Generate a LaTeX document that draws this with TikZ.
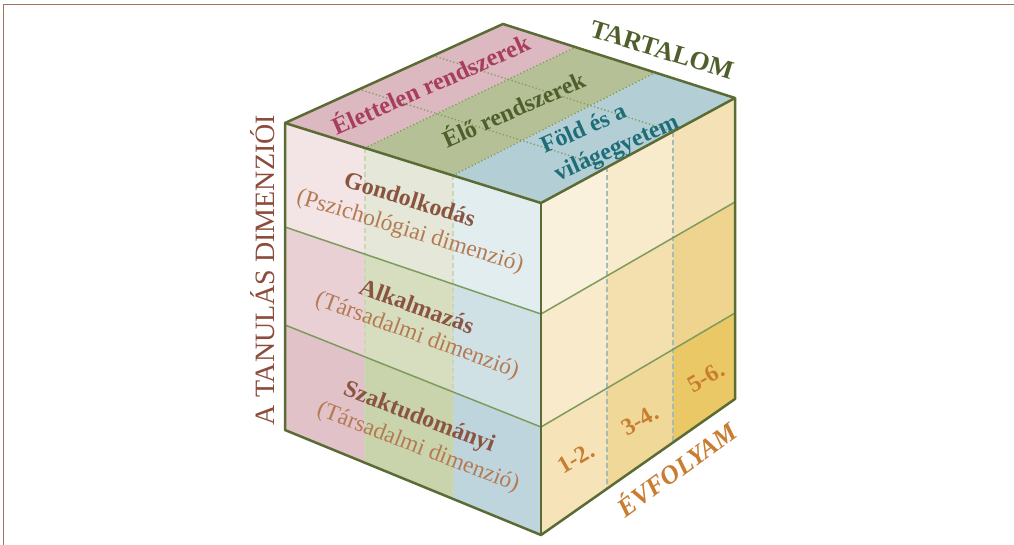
\documentclass[tikz,border=0pt]{standalone}
\usepackage{fontspec}
\setmainfont{Liberation Serif}
\usetikzlibrary{calc}
\definecolor{framecol}{HTML}{A0715C}
\definecolor{edgecol}{HTML}{5B6B34}
\definecolor{rowcol}{HTML}{7D9B5C}
\definecolor{dotcol}{HTML}{86A064}
\definecolor{ldash}{HTML}{CBD7B4}
\definecolor{rdash}{HTML}{A3BCB6}
\definecolor{Tp}{HTML}{DCB8C0}
\definecolor{Tg}{HTML}{B6C096}
\definecolor{Tb}{HTML}{B4CED6}
\definecolor{Lp0}{HTML}{F3E4E6}
\definecolor{Lg0}{HTML}{E5E7D8}
\definecolor{Lb0}{HTML}{E2EDF0}
\definecolor{Lp1}{HTML}{E8D0D4}
\definecolor{Lg1}{HTML}{D7DDBF}
\definecolor{Lb1}{HTML}{D0E1E6}
\definecolor{Lp2}{HTML}{E0C2C8}
\definecolor{Lg2}{HTML}{C9D3AC}
\definecolor{Lb2}{HTML}{BFD5DE}
\definecolor{Ra0}{HTML}{FAF1DD}
\definecolor{Rb0}{HTML}{F8EBCC}
\definecolor{Rc0}{HTML}{F4E2B6}
\definecolor{Ra1}{HTML}{F8EACB}
\definecolor{Rb1}{HTML}{F4E0AE}
\definecolor{Rc1}{HTML}{EFD48F}
\definecolor{Ra2}{HTML}{F6E4B8}
\definecolor{Rb2}{HTML}{F0D898}
\definecolor{Rc2}{HTML}{E9C865}
\definecolor{tartcol}{HTML}{4E5F2B}
\definecolor{dimcol}{HTML}{8C4B3B}
\definecolor{pinktext}{HTML}{A83D5E}
\definecolor{tealtext}{HTML}{1E6E78}
\definecolor{titlecol}{HTML}{8A5540}
\definecolor{subcol}{HTML}{B57A52}
\definecolor{gradecol}{HTML}{C97D30}
\begin{document}
\begin{tikzpicture}[x=1pt,y=-1pt,
  edge/.style={draw=edgecol,line width=2.5pt,line join=round},
  rowline/.style={draw=rowcol,line width=1.5pt},
  topdots/.style={draw=dotcol,line width=1.9pt,line cap=round,dash pattern=on 0pt off 3.6pt},
  leftdash/.style={draw=ldash,line width=1.3pt,dash pattern=on 5pt off 3pt},
  rightdash/.style={draw=rdash,line width=1.5pt,dash pattern=on 5pt off 3pt},
  lbl/.style={inner sep=0pt},
  ttl/.style={inner sep=0pt,font=\fontsize{24}{28}\selectfont\bfseries,text=titlecol},
  sub/.style={inner sep=0pt,font=\fontsize{23.5}{28}\selectfont,text=subcol},
  grade/.style={inner sep=0pt,font=\fontsize{24}{28}\selectfont\bfseries,text=gradecol,rotate=30}
]
\useasboundingbox (0,0) rectangle (1014,545);
\fill[white] (0,0) rectangle (1014,545);
\draw[framecol,line width=1.5pt] (3.5,545) -- (3.5,4.5) -- (1014,4.5);

% corners
\coordinate (L0) at (285,123);
\coordinate (L1) at (285,227);
\coordinate (L2) at (285,325);
\coordinate (L3) at (285,430);
\coordinate (F0) at (541,203);
\coordinate (F1) at (541,314);
\coordinate (F2) at (541,427);
\coordinate (F3) at (541,535);
\coordinate (R0) at (735,98);
\coordinate (R1) at (735,202);
\coordinate (R2) at (735,313);
\coordinate (R3) at (735,399);
\coordinate (B) at (503,24);

% top face stripes
\fill[Tp] (L0) -- ($(L0)!0.3125!(F0)$) -- ($(B)!0.3125!(R0)$) -- (B) -- cycle;
\fill[Tg] ($(L0)!0.3125!(F0)$) -- ($(L0)!0.65625!(F0)$) -- ($(B)!0.65625!(R0)$) -- ($(B)!0.3125!(R0)$) -- cycle;
\fill[Tb] ($(L0)!0.65625!(F0)$) -- (F0) -- (R0) -- ($(B)!0.65625!(R0)$) -- cycle;

% left face cells
\foreach \r/\s in {0/1,1/2,2/3} {
  \foreach \ua/\ub/\cc in {0/0.3125/p,0.3125/0.65625/g,0.65625/1/b} {
    \fill[fill=L\cc\r] ($(L\r)!\ua!(F\r)$) -- ($(L\r)!\ub!(F\r)$) -- ($(L\s)!\ub!(F\s)$) -- ($(L\s)!\ua!(F\s)$) -- cycle;
  }
}
% right face cells
\foreach \r/\s in {0/1,1/2,2/3} {
  \foreach \ua/\ub/\cc in {0/0.34/a,0.34/0.68/b,0.68/1/c} {
    \fill[fill=R\cc\r] ($(F\r)!\ua!(R\r)$) -- ($(F\r)!\ub!(R\r)$) -- ($(F\s)!\ub!(R\s)$) -- ($(F\s)!\ua!(R\s)$) -- cycle;
  }
}

% top face dotted grid
\foreach \u in {0.3125,0.65625} {
  \draw[topdots] ($(L0)!\u!(F0)$) -- ($(B)!\u!(R0)$);
}
\foreach \v in {0.34,0.68} {
  \draw[topdots] ($(L0)!\v!(B)$) -- ($(F0)!\v!(R0)$);
}
% left face dashed columns
\foreach \u in {0.3125,0.65625} {
  \draw[leftdash] ($(L0)!\u!(F0)$) -- ($(L3)!\u!(F3)$);
}
% right face dashed columns
\foreach \v in {0.34,0.68} {
  \draw[rightdash] ($(F0)!\v!(R0)$) -- ($(F3)!\v!(R3)$);
}
% row lines
\draw[rowline] (L1) -- (F1) -- (R1);
\draw[rowline] (L2) -- (F2) -- (R2);
% outer edges
\draw[edge] (L0) -- (B) -- (R0) -- (R3) -- (F3) -- (L3) -- cycle;
\draw[edge] (L0) -- (F0) -- (R0);
\draw[edge] (F0) -- (F3);

% labels
\node[lbl,font=\fontsize{26}{30}\selectfont\bfseries,text=tartcol,rotate=-17] (tart) at (662,50) {TARTALOM};
\node[lbl,font=\fontsize{28}{32}\selectfont,text=dimcol,rotate=90] (dim) at (263,270) {A TANULÁS DIMENZIÓI};

\node[lbl,font=\fontsize{24.5}{28}\selectfont\bfseries,text=pinktext,rotate=24] (elet) at (430,83) {Élettelen rendszerek};
\node[lbl,font=\fontsize{24}{28}\selectfont\bfseries,text=tartcol,rotate=24] (elo) at (513,108) {Élő rendszerek};
\node[lbl,font=\fontsize{24}{28}\selectfont\bfseries,text=tealtext,rotate=24] (fold) at (583,128) {Föld és a};
\node[lbl,font=\fontsize{24}{28}\selectfont\bfseries,text=tealtext,rotate=24] (vilag) at (617,149) {világegyetem};

\node[ttl,rotate=-17] (gond) at (410,199) {Gondolkodás};
\node[sub,rotate=-17] (gondsub) at (410,232) {(Pszichológiai dimenzió)};
\node[ttl,rotate=-20] (alk) at (417,306) {Alkalmazás};
\node[sub,rotate=-20] (alksub) at (417,336) {(Társadalmi dimenzió)};
\node[ttl,rotate=-21] (szak) at (419,418) {Szaktudományi};
\node[sub,rotate=-21] (szaksub) at (418,448) {(Társadalmi dimenzió)};

\node[grade] (g12) at (576,458) {1-2.};
\node[grade] (g34) at (640,420) {3-4.};
\node[grade] (g56) at (706,377) {5-6.};
\node[lbl,font=\fontsize{26}{30}\selectfont\bfseries\itshape,text=gradecol,rotate=36] (evf) at (676,468) {ÉVFOLYAM};
\end{tikzpicture}
\end{document}
